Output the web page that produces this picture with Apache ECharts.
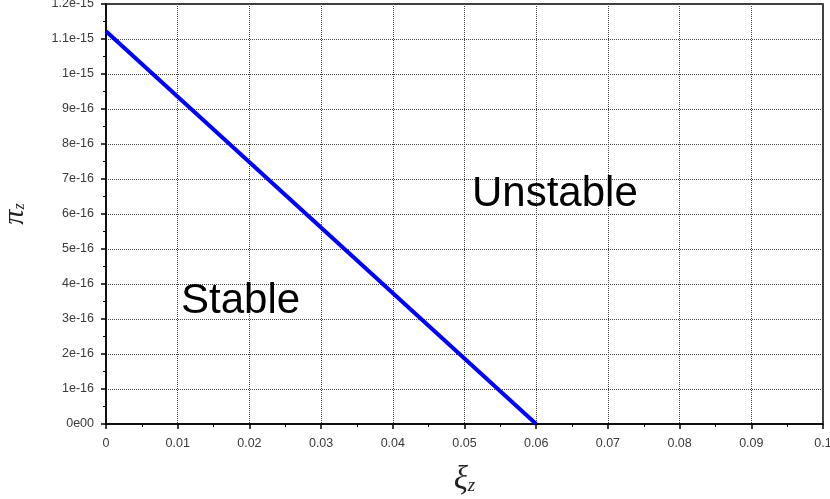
<!DOCTYPE html>
<html>
<head>
<meta charset="utf-8">
<script src="https://cdn.jsdelivr.net/npm/echarts@6/dist/echarts.min.js"></script>
<style>html,body{margin:0;padding:0;background:#fff}#c{width:830px;height:499px}</style>
</head>
<body>
<div id="c"></div>
<script>
// Data
const xiZ = [0, 0.06];
const piZ = [1.122e-15, 0];
const xTickLabels = ['0','0.01','0.02','0.03','0.04','0.05','0.06','0.07','0.08','0.09','0.1'];
const yTickLabels = ['0e00','1e-16','2e-16','3e-16','4e-16','5e-16','6e-16','7e-16','8e-16','9e-16','1e-15','1.1e-15','1.2e-15'];
const regionLabels = ['Stable', 'Unstable'];

const chart = echarts.init(document.getElementById('c'), null, {renderer: 'canvas'});
const font = 'Liberation Sans, Arial, sans-serif';
const serif = 'Liberation Serif, Times New Roman, serif';
const axisCommon = {
  axisLine: {show: true, onZero: false, lineStyle: {color: '#000', width: 1.5}},
  axisTick: {show: true, inside: false, length: 5, lineStyle: {color: '#000', width: 1.5}},
  minorTick: {show: true, splitNumber: 2, length: 3, lineStyle: {color: '#000', width: 1}},
  splitLine: {show: true, lineStyle: {color: '#444', type: 'dotted', width: 1}},
  axisLabel: {color: '#3a3a3a', fontFamily: font, fontSize: 12.5}
};
chart.setOption({
  animation: false,
  backgroundColor: '#fff',
  grid: {left: 106, right: 7, top: 4, bottom: 75, outerBoundsMode: 'none', containLabel: false,
         show: true, borderColor: '#000', borderWidth: 1.5, backgroundColor: 'transparent'},
  xAxis: Object.assign({}, axisCommon, {
    type: 'value', min: 0, max: 0.1, interval: 0.01,
    axisLabel: Object.assign({}, axisCommon.axisLabel, {margin: 13, showMaxLabel: true,
      formatter: v => xTickLabels[Math.round(v * 100)]}),
    name: '{a|ξ}{b|z}', nameLocation: 'middle', nameGap: 40,
    nameTextStyle: {rich: {
      a: {fontFamily: serif, fontStyle: 'italic', fontSize: 33, color: '#222'},
      b: {fontFamily: serif, fontStyle: 'italic', fontSize: 19, color: '#222', padding: [10, 0, 0, 0]}
    }}
  }),
  yAxis: Object.assign({}, axisCommon, {
    type: 'value', min: 0, max: 1.2e-15, interval: 1e-16,
    axisLabel: Object.assign({}, axisCommon.axisLabel, {margin: 12,
      formatter: v => yTickLabels[Math.round(v * 1e16)]}),
    name: '{a|π}{b|z}', nameLocation: 'middle', nameGap: 76, nameRotate: 90,
    nameTextStyle: {rich: {
      a: {fontFamily: serif, fontStyle: 'italic', fontSize: 30, color: '#222'},
      b: {fontFamily: serif, fontStyle: 'italic', fontSize: 16, color: '#222', padding: [10, 0, 0, 0]}
    }}
  }),
  series: [{
    type: 'line',
    data: xiZ.map((x, i) => [x, piZ[i]]),
    showSymbol: false,
    lineStyle: {color: '#0000ff', width: 4},
    z: 5
  }],
  graphic: [
    {type: 'text', left: 181, top: 280, style: {text: regionLabels[0], font: '42px "Liberation Sans", Arial, sans-serif', fill: '#000'}, z: 10},
    {type: 'text', left: 472, top: 173, style: {text: regionLabels[1], font: '42px "Liberation Sans", Arial, sans-serif', fill: '#000'}, z: 10}
  ]
});
</script>
</body>
</html>
